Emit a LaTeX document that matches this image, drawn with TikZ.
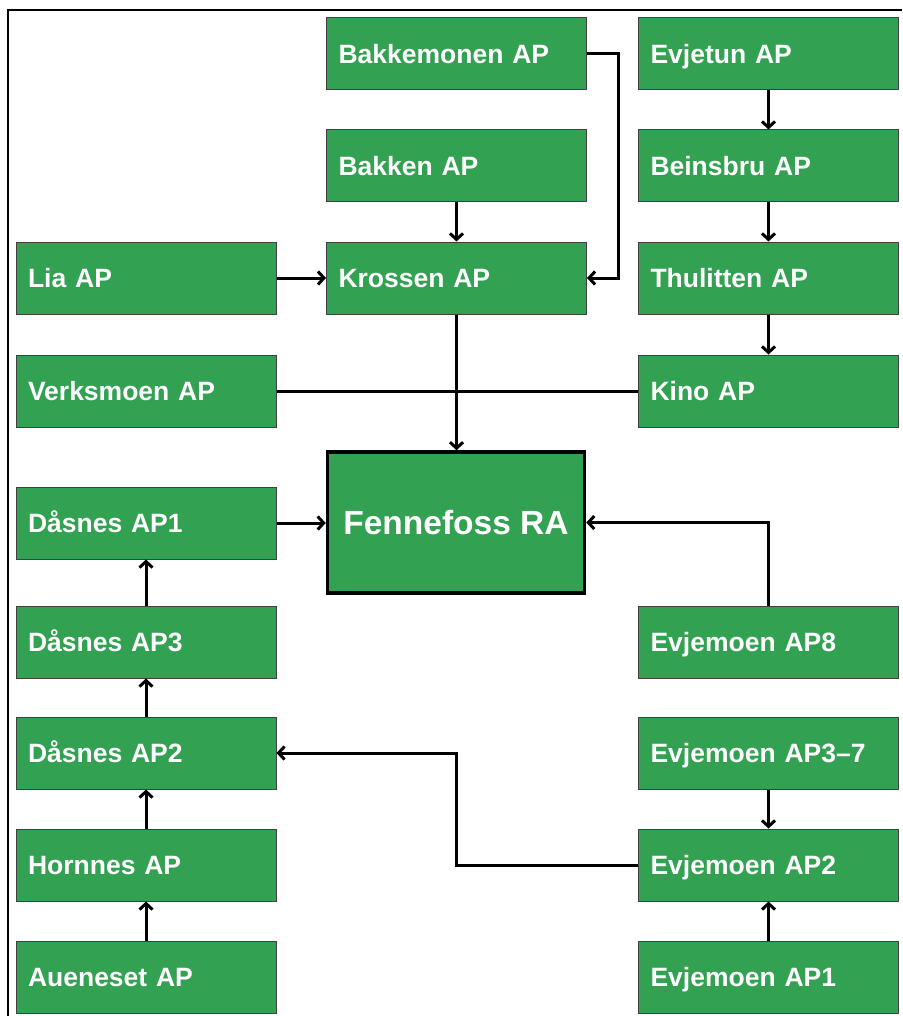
\documentclass[tikz,border=0pt]{standalone}
\usepackage{fontspec}
\setmainfont{Liberation Sans}
\usetikzlibrary{arrows.meta}
\definecolor{apgreen}{RGB}{50,161,82}
\tikzset{
  apbox/.style={draw=black!75,line width=1pt,fill=apgreen,text=white,
    font=\fontsize{26.5}{30}\selectfont\bfseries,
    minimum width=260pt,minimum height=72pt,text width=236pt,inner xsep=12pt,
    align=left,text height=18.8pt,text depth=0pt},
  rabox/.style={draw=black,line width=3.5pt,fill=apgreen,text=white,
    font=\fontsize{33.5}{38}\selectfont\bfseries,
    minimum width=257pt,minimum height=141pt},
  link/.style={line width=3pt}
}
\begin{document}
\begin{tikzpicture}[x=1pt,y=-1pt,>={Straight Barb[length=6pt,width=13pt]}]
        \useasboundingbox (0,0) rectangle (902,1016);
        \draw[line width=2pt] (8,1016)--(8,10)--(902,10);

        % top part
        \node[apbox] (bakkemonen) at (456.5,54) {Bakkemonen AP};
        \node[apbox] (evjetun) at (768.5,54) {Evjetun AP};
        \node[apbox] (bakken) at (456.5,166) {Bakken AP};
        \node[apbox] (beinsbru) at (768.5,166) {Beinsbru AP};
        \node[apbox] (lia) at (146,278) {Lia AP};
        \node[apbox] (krossen) at (456.5,278) {Krossen AP};
        \node[apbox] (thulitten) at (768.5,278) {Thulitten AP};
        \node[apbox] (verksmoen) at (146,391) {Verksmoen AP};
        \node[apbox] (kino) at (768.5,391) {Kino AP};

        \node[rabox] (fennefoss) at (456,522.5) {Fennefoss RA};

        % bottom part
        \node[apbox] (dasnesI) at (146,523) {Dåsnes AP1};
        \node[apbox] (dasnesIII) at (146,642) {Dåsnes AP3};
        \node[apbox] (evjemoenVIII) at (768.5,642) {Evjemoen AP8};
        \node[apbox] (dasnesII) at (146,753) {Dåsnes AP2};
        \node[apbox] (evjemoenIII) at (768.5,753) {Evjemoen AP3–7};
        \node[apbox] (hornnes) at (146,865) {Hornnes AP};
        \node[apbox] (evjemoenII) at (768.5,865) {Evjemoen AP2};
        \node[apbox] (aueneset) at (146,977) {Aueneset AP};
        \node[apbox] (evjemoenI) at (768.5,977) {Evjemoen AP1};
        \coordinate (bend) at (456.5,865);

        \draw[link,->] (bakken)--(krossen);
        \draw[link,->] (lia)--(krossen);
        \draw[link,->] (bakkemonen.east)--++(31,0)|-(krossen.east);
        \draw[link,->] (evjetun)--(beinsbru);
        \draw[link,->] (beinsbru)--(thulitten);
        \draw[link,->] (thulitten)--(kino);
        \draw[link] (verksmoen)--(kino);
        \draw[link,->] (krossen.south)--(krossen.south|-fennefoss.north);
        \draw[link,->] (dasnesI.east)--(dasnesI.east-|fennefoss.west);
        \draw[link,->] (evjemoenVIII.north)|-(fennefoss.east);
        \draw[link,->] (dasnesIII)--(dasnesI);
        \draw[link,->] (dasnesII)--(dasnesIII);
        \draw[link,->] (hornnes)--(dasnesII);
        \draw[link,->] (aueneset)--(hornnes);
        \draw[link,->] (evjemoenIII)--(evjemoenII);
        \draw[link,->] (evjemoenI)--(evjemoenII);
        \draw[link,->] (evjemoenII.west)--(bend)|-(dasnesII.east);
    \end{tikzpicture}
\end{document}
